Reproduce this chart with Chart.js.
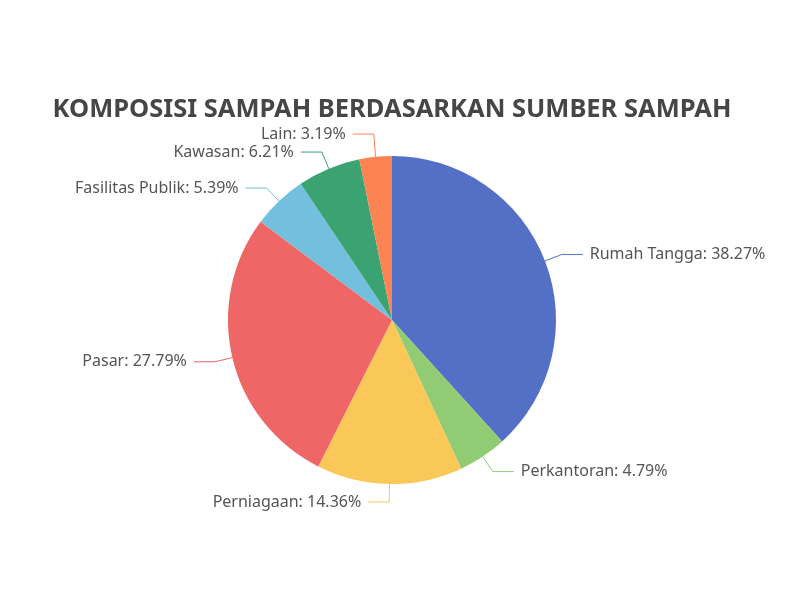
<!DOCTYPE html>
<html lang="id">
<head>
    <meta charset="UTF-8">
    <title>Komposisi Sampah</title>
    <script src="https://cdn.jsdelivr.net/npm/chart.js"></script>
    <style>
        body { margin: 0; background: #fff; }
        #wrap { width: 800px; height: 600px; }
    </style>
</head>
<body>
    <div id="wrap">
        <canvas id="pieChart" width="800" height="600"></canvas>
    </div>
    <script>
        // data
        const chartTitle = 'KOMPOSISI SAMPAH BERDASARKAN SUMBER SAMPAH';
        const sources = ['Rumah Tangga', 'Perkantoran', 'Perniagaan', 'Pasar', 'Fasilitas Publik', 'Kawasan', 'Lain'];
        const percentages = [38.27, 4.79, 14.36, 27.79, 5.39, 6.21, 3.19];
        const sliceColors = ['#5470c6', '#91cc75', '#fac858', '#ee6666', '#73c0de', '#3ba272', '#fc8452'];

        // title + outside labels with leader lines
        const pieLabels = {
            id: 'pieLabels',
            afterDraw(chart) {
                const ctx = chart.ctx;
                ctx.save();
                ctx.fillStyle = '#464646';
                ctx.font = 'bold 25.5px "Noto Sans", sans-serif';
                ctx.textAlign = 'center';
                ctx.textBaseline = 'middle';
                ctx.fillText(chartTitle, 392, 110);

                const len1 = 18, len2 = 21, gap = 7, minSpace = 18;
                const arcs = chart.getDatasetMeta(0).data;
                const items = arcs.map((arc, i) => {
                    const mid = (arc.startAngle + arc.endAngle) / 2;
                    const r = arc.outerRadius;
                    const cos = Math.cos(mid), sin = Math.sin(mid);
                    return {
                        i: i,
                        dir: cos >= 0 ? 1 : -1,
                        cy: arc.y,
                        x0: arc.x + cos * r, y0: arc.y + sin * r,
                        x1: arc.x + cos * (r + len1), y1: arc.y + sin * (r + len1)
                    };
                });
                items.forEach(it => { it.ly = it.y1; });

                // keep labels on the same side from overlapping
                [1, -1].forEach(dir => {
                    const side = items.filter(it => it.dir === dir);
                    const upper = side.filter(it => it.y1 < it.cy).sort((a, b) => b.y1 - a.y1);
                    const lower = side.filter(it => it.y1 >= it.cy).sort((a, b) => a.y1 - b.y1);
                    for (let k = 1; k < upper.length; k++) {
                        upper[k].ly = Math.min(upper[k].ly, upper[k - 1].ly - minSpace);
                    }
                    for (let k = 1; k < lower.length; k++) {
                        lower[k].ly = Math.max(lower[k].ly, lower[k - 1].ly + minSpace);
                    }
                });

                ctx.font = '16px "Noto Sans", sans-serif';
                ctx.lineWidth = 1;
                items.forEach(it => {
                    const x2 = it.x1 + it.dir * len2;
                    ctx.strokeStyle = sliceColors[it.i];
                    ctx.beginPath();
                    ctx.moveTo(it.x0, it.y0);
                    ctx.lineTo(it.x1, it.ly);
                    ctx.lineTo(x2, it.ly);
                    ctx.stroke();

                    ctx.fillStyle = '#555555';
                    ctx.textAlign = it.dir > 0 ? 'left' : 'right';
                    ctx.fillText(sources[it.i] + ': ' + percentages[it.i].toFixed(2) + '%', x2 + it.dir * gap, it.ly);
                });
                ctx.restore();
            }
        };

        const ctx = document.getElementById('pieChart').getContext('2d');
        new Chart(ctx, {
            type: 'pie',
            data: {
                labels: sources,
                datasets: [{
                    data: percentages,
                    backgroundColor: sliceColors,
                    borderWidth: 0
                }]
            },
            options: {
                responsive: false,
                animation: false,
                layout: {
                    padding: { left: 228, right: 244, top: 156, bottom: 116 }
                },
                plugins: {
                    legend: { display: false },
                    tooltip: { enabled: false }
                }
            },
            plugins: [pieLabels]
        });
    </script>
</body>
</html>
